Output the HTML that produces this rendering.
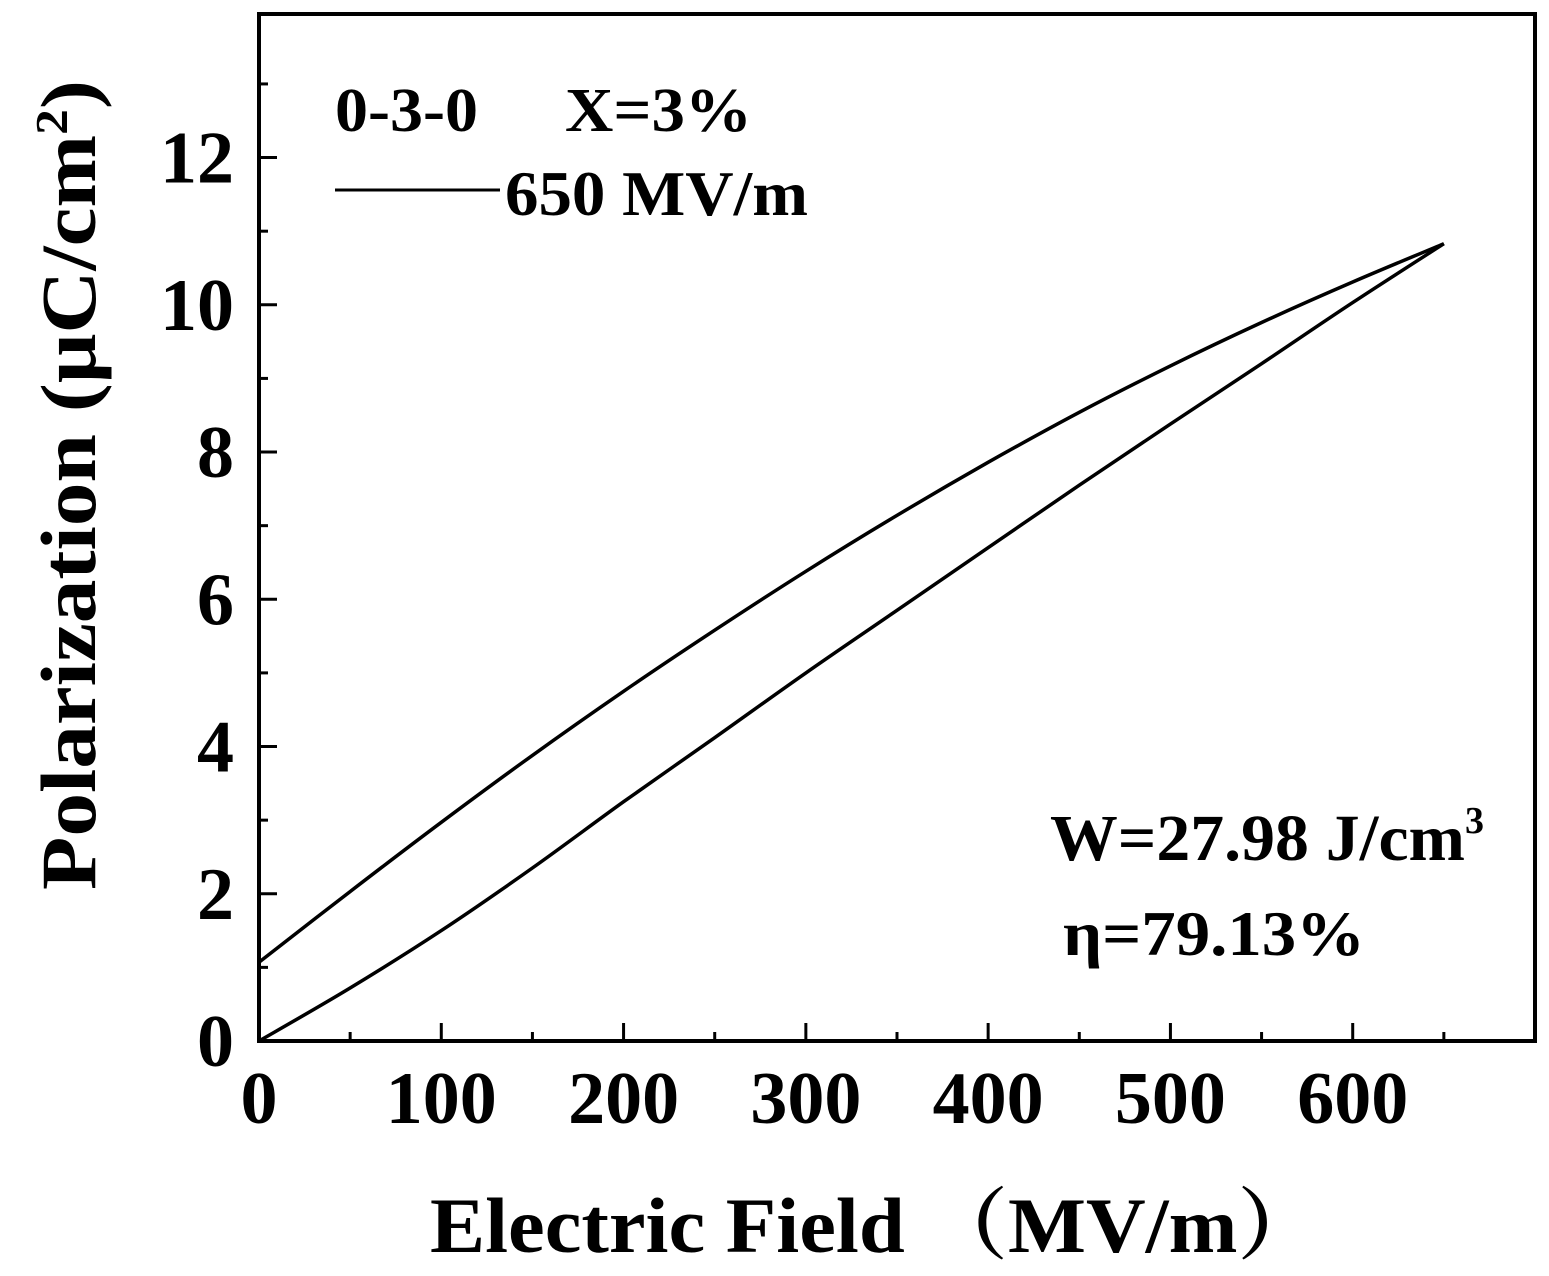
<!DOCTYPE html>
<html><head><meta charset="utf-8"><style>
html,body{margin:0;padding:0;background:#fff}
svg text{font-family:"Liberation Serif","Noto Serif CJK SC",serif;font-weight:bold;fill:#000}
</style></head><body>
<svg id="chart" width="1549" height="1271" viewBox="0 0 1549 1271" xmlns="http://www.w3.org/2000/svg">
<g id="plot"></g>
<text x="335" y="131" font-size="62" textLength="143" lengthAdjust="spacingAndGlyphs">0-3-0</text>
<text x="565" y="131" font-size="62" textLength="187" lengthAdjust="spacingAndGlyphs">X=3%</text>
<line x1="335" y1="190" x2="500" y2="190" stroke="#000" stroke-width="3"/>
<text x="505" y="215" font-size="64" textLength="303" lengthAdjust="spacingAndGlyphs">650 MV/m</text>
<text x="1050" y="860" font-size="66"><tspan textLength="415" lengthAdjust="spacingAndGlyphs">W=27.98 J/cm</tspan><tspan dy="-27" font-size="38">3</tspan></text>
<text x="1063" y="955" font-size="64" textLength="302" lengthAdjust="spacingAndGlyphs">η=79.13%</text>
<text x="430" y="1252" font-size="78" textLength="890" lengthAdjust="spacingAndGlyphs">Electric Field （MV/m）</text>
<text transform="translate(95,890) rotate(-90)" x="0" y="0" font-size="78" textLength="810" lengthAdjust="spacingAndGlyphs">Polarization (μC/cm<tspan dy="-28" font-size="46">2</tspan><tspan dy="28">)</tspan></text>
</svg>
<script>
const upperE = [0, 50, 100, 150, 200, 250, 300, 350, 400, 450, 500, 550, 600, 650];
const upperP = [1.07, 2.03, 2.97, 3.88, 4.75, 5.58, 6.38, 7.14, 7.86, 8.54, 9.17, 9.76, 10.31, 10.83];
const lowerE = [0, 50, 100, 150, 200, 250, 300, 350, 400, 450, 500, 550, 600, 650];
const lowerP = [0, 0.72, 1.5, 2.35, 3.25, 4.12, 5.0, 5.85, 6.7, 7.55, 8.38, 9.2, 10.03, 10.83];
const xTicks = [0, 100, 200, 300, 400, 500, 600];
const yTicks = [0, 2, 4, 6, 8, 10, 12];
const X0 = 259, X1 = 1535, Y0 = 1041, Y1 = 14;
const xMax = 700, yMax = 13.95;
const sx = v => X0 + v / xMax * (X1 - X0);
const sy = v => Y0 - v / yMax * (Y0 - Y1);
const NS = 'http://www.w3.org/2000/svg';
const g = document.getElementById('plot');
function mk(tag, attrs) { const e = document.createElementNS(NS, tag); for (const k in attrs) e.setAttribute(k, attrs[k]); g.appendChild(e); return e; }
const frame = mk('rect', {x: X0, y: Y1, width: X1 - X0, height: Y0 - Y1, fill: 'none', stroke: '#000', 'stroke-width': 4});


for (let v = 0; v <= xMax; v += 50) {
  const major = v % 100 === 0;
  const t = mk('line', {x1: sx(v), x2: sx(v), y1: Y0, y2: Y0 - (major ? 18 : 9), stroke: '#000', 'stroke-width': 3});
  
  
}
for (let v = 0; v <= 13; v += 1) {
  const major = v % 2 === 0;
  const t = mk('line', {x1: X0, x2: X0 + (major ? 18 : 9), y1: sy(v), y2: sy(v), stroke: '#000', 'stroke-width': 3});
  
  
}
xTicks.forEach(v => {
  const t = mk('text', {x: sx(v), y: Y0 + 82, 'font-size': 74, 'text-anchor': 'middle'});
  t.textContent = v;
  
  
});
yTicks.forEach(v => {
  const t = mk('text', {x: 234, y: sy(v) + 25, 'font-size': 74, 'text-anchor': 'end'});
  t.textContent = v;
  
  
});
function curve(E, P) {
  const pts = E.map((e, i) => [sx(e), sy(P[i])]);
  let d = 'M' + pts[0][0].toFixed(1) + ' ' + pts[0][1].toFixed(1);
  for (let i = 0; i < pts.length - 1; i++) {
    const p0 = pts[Math.max(0, i - 1)], p1 = pts[i], p2 = pts[i + 1], p3 = pts[Math.min(pts.length - 1, i + 2)];
    const c1 = [p1[0] + (p2[0] - p0[0]) / 6, p1[1] + (p2[1] - p0[1]) / 6];
    const c2 = [p2[0] - (p3[0] - p1[0]) / 6, p2[1] - (p3[1] - p1[1]) / 6];
    d += 'C' + c1[0].toFixed(1) + ' ' + c1[1].toFixed(1) + ' ' + c2[0].toFixed(1) + ' ' + c2[1].toFixed(1) + ' ' + p2[0].toFixed(1) + ' ' + p2[1].toFixed(1);
  }
  return d;
}
const up = mk('path', {d: curve(upperE, upperP), fill: 'none', stroke: '#000', 'stroke-width': 3.5, 'stroke-linejoin': 'round'});


const lo = mk('path', {d: curve(lowerE, lowerP), fill: 'none', stroke: '#000', 'stroke-width': 3.5, 'stroke-linejoin': 'round'});


</script>
</body></html>
